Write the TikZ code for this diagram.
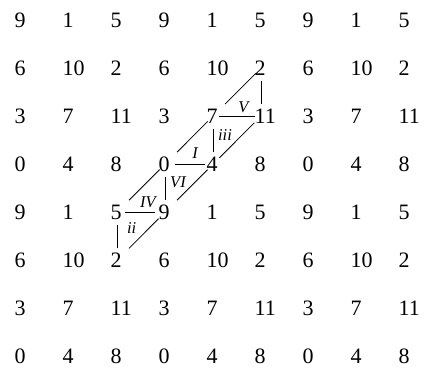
\documentclass[tikz,border=0pt]{standalone}
\usepackage{fontspec}
\setmainfont{Liberation Serif}
\begin{document}
\begin{tikzpicture}[x=1pt,y=-1pt,
  num/.style={anchor=west,inner sep=0pt,font=\fontsize{22}{22}\selectfont},
  lab/.style={inner sep=0pt,font=\fontsize{16.5}{16.5}\selectfont\itshape},
  lk/.style={line width=0.8pt},
  diag/.style={lk,shorten <=7.5pt,shorten >=17pt},
  vert/.style={lk,shorten <=13pt,shorten >=12pt}]
\useasboundingbox (0,0) rectangle (422,369);
\foreach \r in {0,...,7}{
  \foreach \c in {0,...,8}{
    \pgfmathtruncatemacro{\v}{mod(3*mod(7-\r,4)+4*\c,12)}
    \node[num] (n-\c-\r) at ({14.5+48*\c},{20+48.07*\r}) {\v};
    \coordinate (k-\c-\r) at ({21+48*\c},{20+48.07*\r});
  }}
% horizontal connectors
\draw[lk] ([xshift=5.5pt]n-3-3.east) -- ([xshift=-1.5pt]n-4-3.west);
\draw[lk] ([xshift=3.5pt]n-2-4.east) -- ([xshift=-3.5pt]n-3-4.west);
\draw[lk] ([xshift=1.5pt]n-4-2.east) -- ([xshift=0pt]n-5-2.west);
% vertical connectors
\draw[vert] (k-5-1) -- (k-5-2);
\draw[vert] (k-4-2) -- (k-4-3);
\draw[vert] (k-3-3) -- (k-3-4);
\draw[vert] (k-2-4) -- (k-2-5);
% diagonal connectors
\draw[diag] (k-5-1) -- (k-4-2);
\draw[diag] (k-4-2) -- (k-3-3);
\draw[diag] (k-3-3) -- (k-2-4);
\draw[diag,shorten <=9.4pt,shorten >=9pt] (k-5-2) -- (k-4-3);
\draw[diag,shorten <=7.8pt] (k-4-3) -- (k-3-4);
\draw[diag,shorten <=9pt] (k-3-4) -- (k-2-5);
% labels
\node[lab] (lI) at (195,153.5) {I};
\node[lab] (lV) at (243.5,107.5) {V};
\node[lab] (lIV) at (148,202.5) {IV};
\node[lab] (liii) at (225,135) {iii};
\node[lab] (lVI) at (178,182.5) {VI};
\node[lab] (lii) at (131.7,228) {ii};
\end{tikzpicture}
\end{document}
